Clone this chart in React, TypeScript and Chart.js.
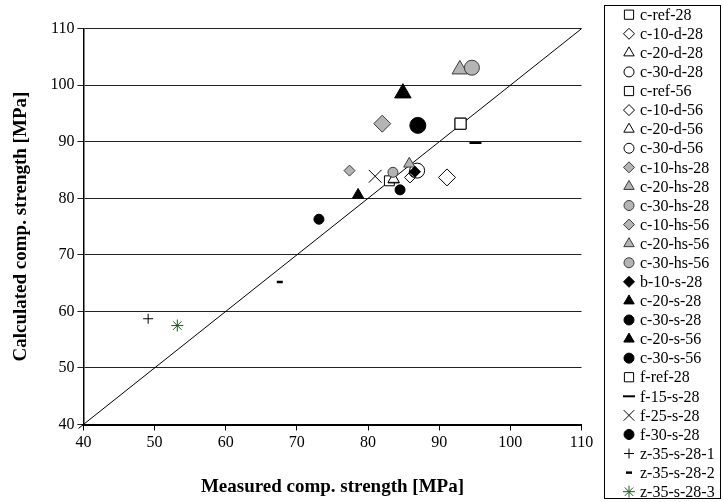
import React, { useEffect, useRef } from 'react';
import { Chart, registerables } from 'chart.js';
import { drawPoint } from 'chart.js/helpers';

Chart.register(...registerables);

// ---- data ----
const seriesNames = [
  'c-ref-28', 'c-10-d-28', 'c-20-d-28', 'c-30-d-28',
  'c-ref-56', 'c-10-d-56', 'c-20-d-56', 'c-30-d-56',
  'c-10-hs-28', 'c-20-hs-28', 'c-30-hs-28',
  'c-10-hs-56', 'c-20-hs-56', 'c-30-hs-56',
  'b-10-s-28', 'c-20-s-28', 'c-30-s-28', 'c-20-s-56', 'c-30-s-56',
  'f-ref-28', 'f-15-s-28', 'f-25-s-28', 'f-30-s-28',
  'z-35-s-28-1', 'z-35-s-28-2', 'z-35-s-28-3',
];
const measured = [
  83.0, 85.9, 83.6, 86.5,
  93.0, 91.1, 83.6, 86.9,
  77.4, 85.8, 83.5,
  82.0, 92.9, 94.6,
  86.6, 78.6, 84.5, 84.9, 87.0,
  93.0, 95.1, 81.0, 73.1,
  49.1, 67.6, 53.2,
];
const calculated = [
  83.1, 83.7, 83.3, 84.6,
  93.2, 83.7, 83.4, 84.9,
  84.9, 86.1, 84.6,
  93.2, 102.8, 103.1,
  84.7, 80.6, 81.5, 98.6, 92.9,
  93.2, 89.8, 83.9, 76.3,
  58.7, 65.2, 57.5,
];
const axisTicks = [40, 50, 60, 70, 80, 90, 100, 110];
const diagonal = [39.3, 110];

// ---- styles ----
const W = '#ffffff', G = '#b4b4b4', K = '#000000';
const styles = [
  ['rect', W, 7], ['rectRot', W, 5.5], ['triangle', W, 6.5], ['circle', W, 5],
  ['rect', W, 7.8], ['rectRot', W, 8.5], ['triangle', W, 6.5], ['circle', W, 7.5],
  ['rectRot', G, 5.5], ['triangle', G, 6.5], ['circle', G, 5],
  ['rectRot', G, 8.5], ['triangle', G, 9], ['circle', G, 7.5],
  ['rectRot', K, 5.5], ['triangle', K, 6.5], ['circle', K, 5], ['triangle', K, 9.5], ['circle', K, 8],
  ['rect', W, 7.8], ['line', K, 6], ['crossRot', K, 9], ['circle', K, 5],
  ['cross', K, 5], ['line', K, 3], ['star', '#1f5a1f', 6],
] as const;

function borderColorOf(i: number) {
  const fill = styles[i][1];
  if (i === 25) return '#1f5a1f';
  if (fill === G) return '#3a3a3a';
  return '#000000';
}
function borderWidthOf(i: number) {
  const st = styles[i][0];
  if (st === 'line') return i === 24 ? 2.5 : 2;
  return 1;
}

const legendLabelsPlugin = {
  id: 'boxedLegend',
  afterDraw(chart: any) {
    const ctx = chart.ctx as CanvasRenderingContext2D;
    ctx.save();
    ctx.strokeStyle = '#000';
    ctx.lineWidth = 1;
    ctx.strokeRect(604.5, 5.5, 116, 493);
    ctx.font = '16px "Liberation Serif", "Times New Roman", serif';
    ctx.textBaseline = 'middle';
    ctx.textAlign = 'left';
    seriesNames.forEach((name, i) => {
      const y = 14.7 + i * 19.08;
      const [ps, fill] = styles[i];
      ctx.fillStyle = fill;
      ctx.strokeStyle = borderColorOf(i);
      ctx.lineWidth = borderWidthOf(i);
      let r = 5;
      if (ps === 'rectRot') r = 5.5;
      if (ps === 'triangle') r = 6;
      if (ps === 'rect') r = 6.5;
      if (ps === 'line') r = i === 24 ? 3 : 6;
      if (ps === 'crossRot') r = 7.5;
      if (ps === 'star') r = 6;
      drawPoint(ctx, { pointStyle: ps, radius: r, rotation: 0, borderWidth: borderWidthOf(i) } as any, 629, y);
      ctx.fillStyle = '#000';
      ctx.fillText(name, 640, y + 1);
    });
    ctx.restore();
  },
};

export default function App() {
  const ref = useRef<HTMLCanvasElement>(null);
  useEffect(() => {
    document.body.style.margin = '0';
    const canvas = ref.current!;
    const n = seriesNames.length;
    const datasets: any[] = seriesNames.map((name, i) => ({
      type: 'scatter',
      label: name,
      data: [{ x: measured[i], y: calculated[i] }],
      pointStyle: styles[i][0],
      pointRadius: styles[i][2],
      backgroundColor: styles[i][1],
      borderColor: borderColorOf(i),
      borderWidth: borderWidthOf(i),
      order: n - i,
    }));
    datasets.push({
      type: 'line',
      label: 'y=x',
      data: diagonal.map((v) => ({ x: v, y: v })),
      borderColor: '#000',
      borderWidth: 1,
      pointRadius: 0,
      clip: false,
      order: 1000,
    });
    const font = { family: '"Liberation Serif", "Times New Roman", serif' };
    const chart = new Chart(canvas, {
      type: 'scatter',
      data: { datasets },
      options: {
        animation: false,
        responsive: false,
        devicePixelRatio: 1,
        events: [],
        layout: { padding: { top: 28.7, right: 141.5, bottom: 0, left: 0 } },
        plugins: { legend: { display: false }, tooltip: { enabled: false } },
        scales: {
          x: {
            type: 'linear',
            min: axisTicks[0],
            max: axisTicks[axisTicks.length - 1],
            afterBuildTicks: (s: any) => { s.ticks = axisTicks.map((v) => ({ value: v })); },
            ticks: { color: '#000', font: { ...font, size: 16 }, padding: 3, maxRotation: 0 },
            grid: { drawOnChartArea: false, drawTicks: true, tickLength: 6, color: '#000' },
            border: { display: true, color: '#000', width: 2 },
            title: {
              display: true,
              text: 'Measured comp. strength [MPa]',
              color: '#000',
              font: { ...font, size: 19, weight: 'bold' },
              padding: { top: 19.5, bottom: 4 },
            },
          },
          y: {
            type: 'linear',
            min: axisTicks[0],
            max: axisTicks[axisTicks.length - 1],
            afterBuildTicks: (s: any) => { s.ticks = axisTicks.map((v) => ({ value: v })); },
            ticks: { color: '#000', font: { ...font, size: 16 }, padding: 3 },
            grid: { drawOnChartArea: true, drawTicks: true, tickLength: 6, color: '#222', lineWidth: 1 },
            border: { display: true, color: '#000', width: 1.5 },
            title: {
              display: true,
              text: 'Calculated comp. strength [MPa]',
              color: '#000',
              font: { ...font, size: 19, weight: 'bold' },
              padding: { top: 9.6, bottom: 15 },
            },
          },
        },
      } as any,
      plugins: [legendLabelsPlugin],
    });
    return () => chart.destroy();
  }, []);
  return <canvas ref={ref} width={723} height={502} style={{ display: 'block' }} />;
}
